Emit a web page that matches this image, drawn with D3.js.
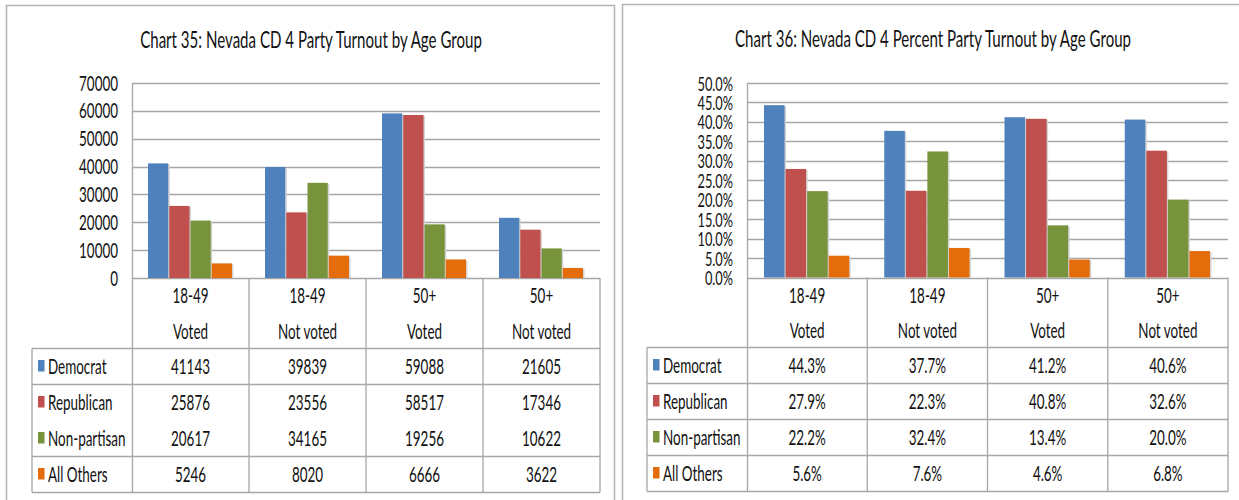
<!DOCTYPE html>
<html>
<head>
<meta charset="utf-8">
<script src="https://cdn.jsdelivr.net/npm/d3@7"></script>
<style>
  html, body { margin: 0; padding: 0; background: #ffffff; }
  svg { display: block; }
</style>
</head>
<body>
<svg id="chart" width="1239" height="500"></svg>
<script>
// ---------------- DATA ----------------
const categoriesTop = ["18-49", "18-49", "50+", "50+"];
const categoriesBottom = ["Voted", "Not voted", "Voted", "Not voted"];
const seriesNames = ["Democrat", "Republican", "Non-partisan", "All Others"];
const seriesColors = ["#4f81bd", "#c0504d", "#77933c", "#e46c0a"];

const countDemocrat = [41143, 39839, 59088, 21605];
const countRepublican = [25876, 23556, 58517, 17346];
const countNonpartisan = [20617, 34165, 19256, 10622];
const countAllOthers = [5246, 8020, 6666, 3622];
const countTicks = [0, 10000, 20000, 30000, 40000, 50000, 60000, 70000];

const pctDemocrat = [44.3, 37.7, 41.2, 40.6];
const pctRepublican = [27.9, 22.3, 40.8, 32.6];
const pctNonpartisan = [22.2, 32.4, 13.4, 20.0];
const pctAllOthers = [5.6, 7.6, 4.6, 6.8];
const pctTicks = [0, 5, 10, 15, 20, 25, 30, 35, 40, 45, 50];

const title35 = "Chart 35: Nevada CD 4 Party Turnout by Age Group";
const title36 = "Chart 36: Nevada CD 4 Percent Party Turnout by Age Group";

// ---------------- DRAWING ----------------
const svg = d3.select("#chart");
const FONT = "Lato, 'Open Sans', sans-serif";
const TXT = "#111111";
const GRID = "#a6a6a6";

function label(g, x, y, str, opts = {}) {
  const fs = opts.size || 21;
  const sx = opts.sx || 0.64;
  return g.append("text")
    .attr("transform", `translate(${x},${y}) scale(${sx},1)`)
    .attr("x", 0).attr("y", 0)
    .attr("text-anchor", opts.anchor || "middle")
    .attr("font-family", FONT)
    .attr("font-size", fs)
    .attr("fill", TXT)
    .text(str);
}

function drawPanel(cfg) {
  const g = svg.append("g");
  // panel border
  g.append("rect")
    .attr("x", cfg.panel.x).attr("y", cfg.panel.y)
    .attr("width", cfg.panel.w).attr("height", cfg.panel.h)
    .attr("fill", "#fff").attr("stroke", "#b4b4b4").attr("stroke-width", 1.5);

  // title
  label(g, cfg.titleX, cfg.titleY, cfg.title, { size: 22.5, sx: 0.67 });

  const x = d3.scaleBand().domain(d3.range(categoriesTop.length))
    .range([cfg.plot.x0, cfg.plot.x1]).paddingInner(0).paddingOuter(0);
  const y = d3.scaleLinear().domain([cfg.ticks[0], cfg.ticks[cfg.ticks.length - 1]])
    .range([cfg.plot.yZero, cfg.plot.yTop]);
  const sub = d3.scaleBand().domain(d3.range(seriesNames.length))
    .range([cfg.groupPad, x.bandwidth() - cfg.groupPad]).paddingInner(0).paddingOuter(0);

  // gridlines
  g.append("g").selectAll("line").data(cfg.ticks).join("line")
    .attr("x1", cfg.plot.x0).attr("x2", cfg.plot.x1)
    .attr("y1", d => Math.round(y(d)) + 0.5).attr("y2", d => Math.round(y(d)) + 0.5)
    .attr("stroke", GRID).attr("stroke-width", 1.3);

  // y labels
  cfg.ticks.forEach(t => label(g, cfg.yLabelX, y(t) + 7.5, cfg.tickFmt(t),
    { anchor: "end", size: cfg.tickSize, sx: cfg.tickSx }));

  // bars
  cfg.series.forEach((vals, si) => {
    const bw = sub.bandwidth() - 1;
    g.append("g").selectAll("rect").data(vals).join("rect")
      .attr("x", (d, i) => x(i) + sub(si) + 1.5)
      .attr("y", d => y(d) + 1)
      .attr("width", bw)
      .attr("height", d => y(0) - y(d) - 1)
      .attr("fill", "#d4d4d4");
    g.append("g").selectAll("rect").data(vals).join("rect")
      .attr("x", (d, i) => x(i) + sub(si))
      .attr("y", d => y(d))
      .attr("width", bw)
      .attr("height", d => y(0) - y(d))
      .attr("fill", seriesColors[si]);
  });

  // y axis line
  g.append("line").attr("x1", cfg.plot.x0 + 0.5).attr("x2", cfg.plot.x0 + 0.5)
    .attr("y1", cfg.plot.yTop).attr("y2", cfg.rows[cfg.rows.length - 1])
    .attr("stroke", GRID).attr("stroke-width", 1.3);

  // data table
  const rows = cfg.rows;
  const tl = cfg.tableLeft;
  const lineAttr = sel => sel.attr("stroke", GRID).attr("stroke-width", 1.3);
  x.domain().forEach(i => {
    const xr = x(i) + x.bandwidth();
    g.append("line").attr("x1", xr).attr("x2", xr)
      .attr("y1", y(0)).attr("y2", rows[rows.length - 1]).call(lineAttr);
  });
  g.append("line").attr("x1", tl).attr("x2", tl)
    .attr("y1", rows[0]).attr("y2", rows[rows.length - 1]).call(lineAttr);
  rows.forEach((ry, ri) => {
    if (cfg.skipRowLines.includes(ri)) return;
    g.append("line").attr("x1", tl).attr("x2", cfg.plot.x1)
      .attr("y1", ry).attr("y2", ry).call(lineAttr);
  });

  // header text
  x.domain().forEach(i => {
    const cx = x(i) + x.bandwidth() / 2;
    label(g, cx, cfg.headY1 + 7.5, categoriesTop[i]);
    label(g, cx, cfg.headY2 + 7.5, categoriesBottom[i]);
  });

  // body rows
  seriesNames.forEach((name, si) => {
    const cy = (rows[si] + rows[si + 1]) / 2;
    g.append("rect").attr("x", cfg.legendX).attr("y", cy - 6.5)
      .attr("width", 6.5).attr("height", 11.5).attr("fill", seriesColors[si]);
    label(g, cfg.legendX + 10, cy + 7.5, name, { anchor: "start" });
    cfg.series[si].forEach((v, i) => {
      label(g, x(i) + x.bandwidth() / 2, cy + 7.5, cfg.valFmt(v));
    });
  });
}

drawPanel({
  panel: { x: 6.5, y: 5.5, w: 608, h: 520 },
  title: title35, titleX: 311, titleY: 47.5,
  plot: { x0: 132, x1: 600, yTop: 83, yZero: 278 },
  ticks: countTicks, tickFmt: d => String(d), tickSize: 21, tickSx: 0.64,
  yLabelX: 118, groupPad: 16,
  series: [countDemocrat, countRepublican, countNonpartisan, countAllOthers],
  valFmt: d => String(d),
  tableLeft: 32, rows: [348.5, 384.5, 420.5, 456.5, 492.5], skipRowLines: [2],
  headY1: 295, headY2: 331, legendX: 38
});

drawPanel({
  panel: { x: 622.5, y: 4.5, w: 640, h: 520 },
  title: title36, titleX: 933, titleY: 46.5,
  plot: { x0: 747, x1: 1228, yTop: 83, yZero: 277.5 },
  ticks: pctTicks, tickFmt: d => d.toFixed(1) + "%", tickSize: 20, tickSx: 0.64,
  yLabelX: 733, groupPad: 17,
  series: [pctDemocrat, pctRepublican, pctNonpartisan, pctAllOthers],
  valFmt: d => d.toFixed(1) + "%",
  tableLeft: 647, rows: [347.5, 383.5, 419.5, 455.5, 491.5], skipRowLines: [],
  headY1: 295, headY2: 330, legendX: 653
});
</script>
</body>
</html>
